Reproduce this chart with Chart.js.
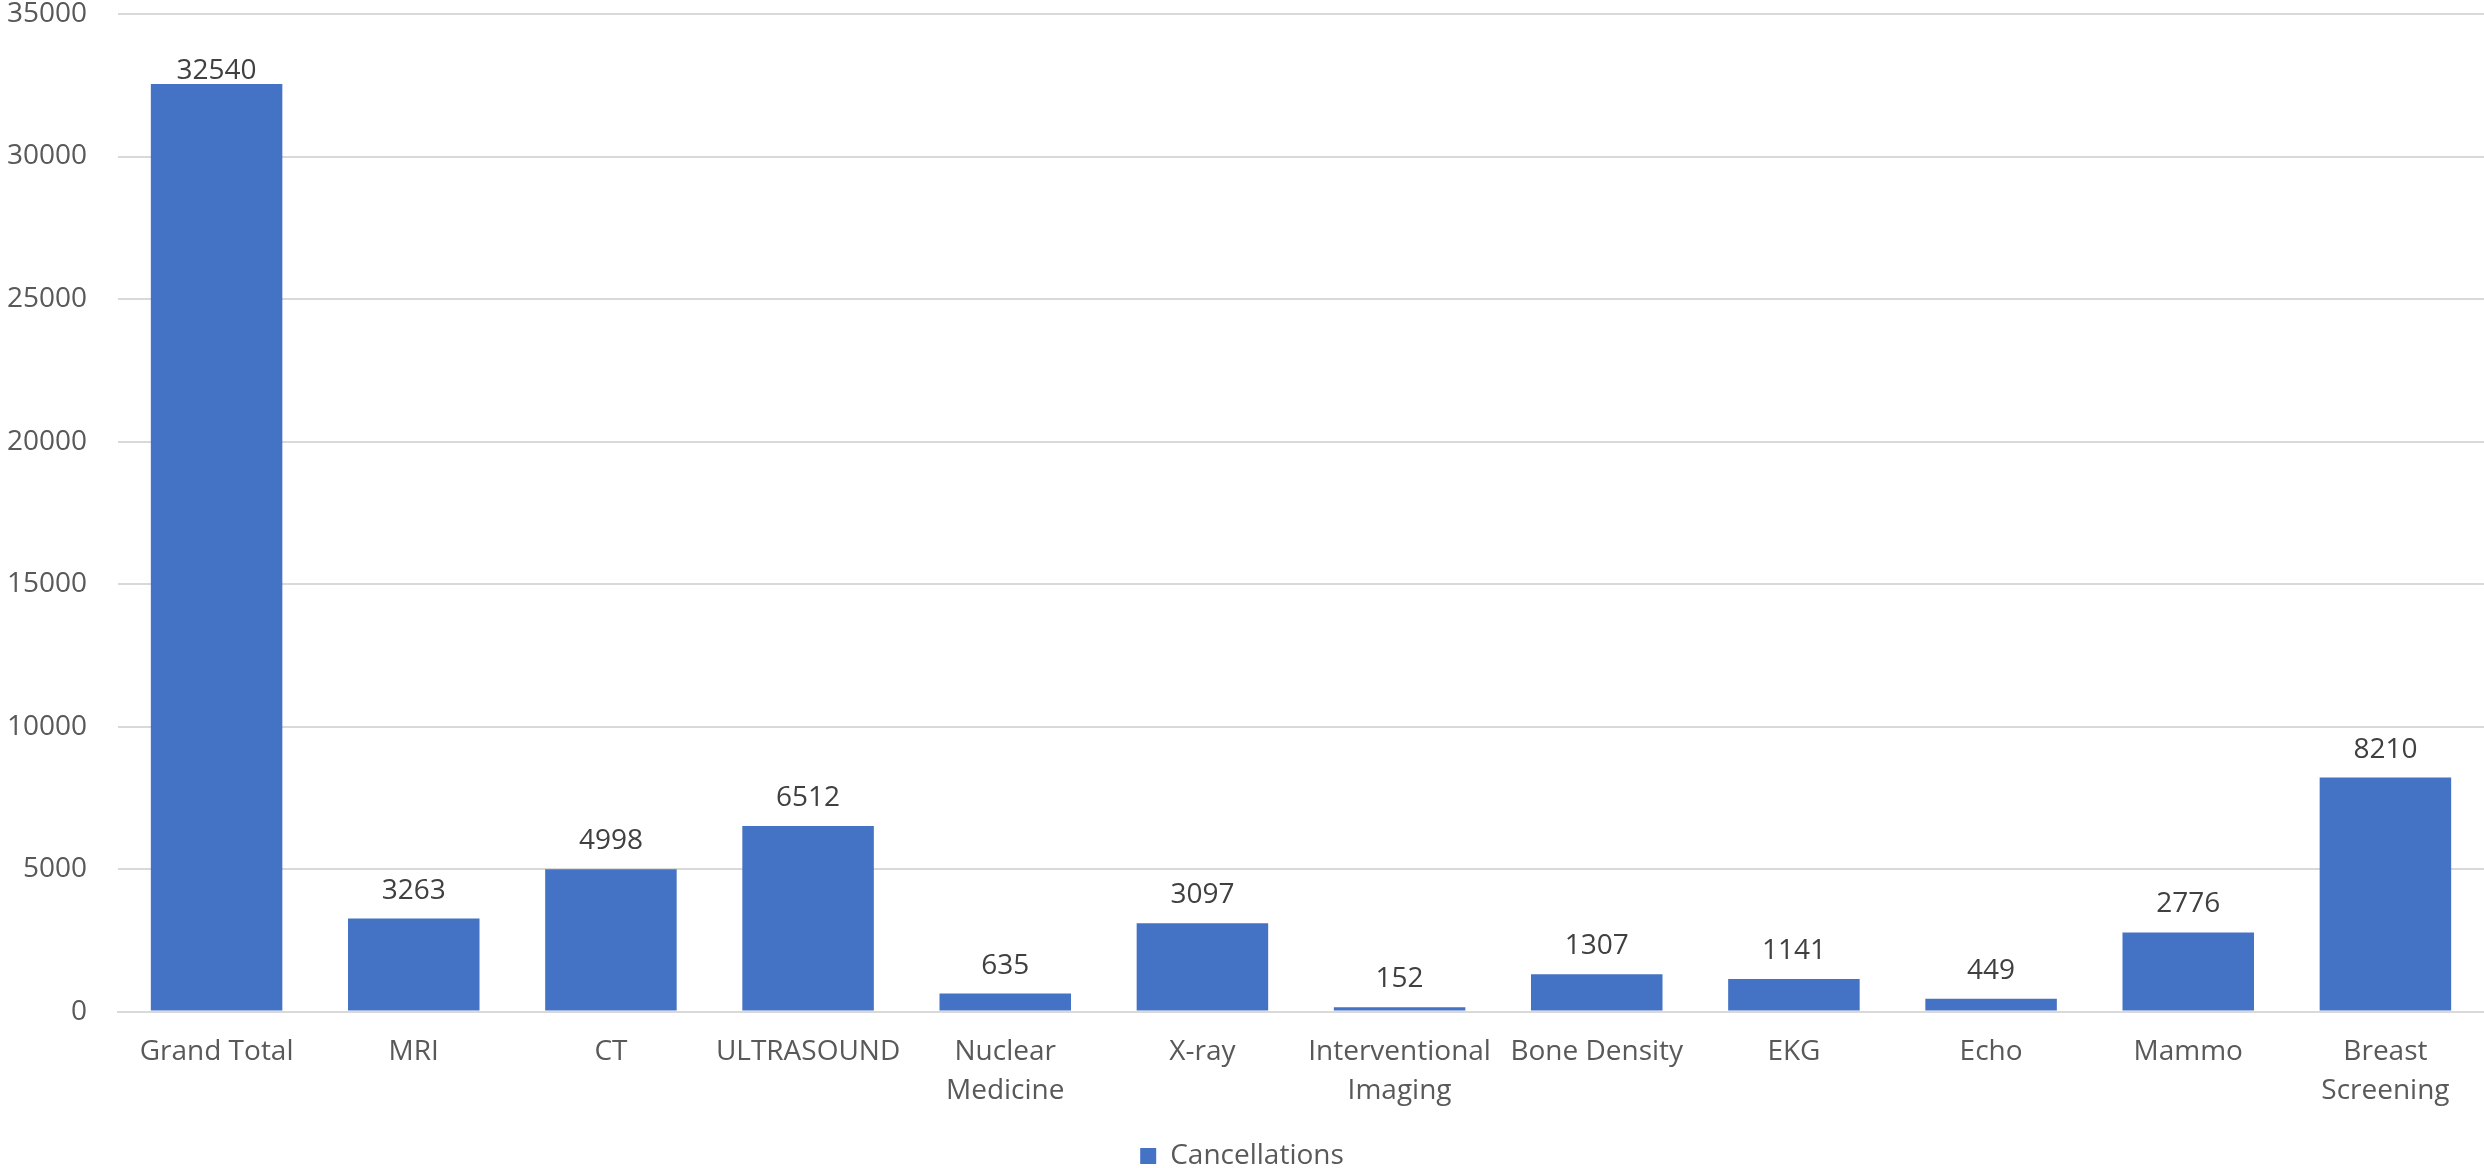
<!DOCTYPE html>
<html>
<head>
<meta charset="utf-8">
<script src="https://cdn.jsdelivr.net/npm/chart.js@4.4.1/dist/chart.umd.min.js"></script>
<style>
  html, body { margin: 0; padding: 0; background: #ffffff; }
  #wrap { width: 2484px; height: 1168px; }
</style>
</head>
<body>
<div id="wrap"><canvas id="cancelChart" width="2484" height="1168"></canvas></div>
<script>
// datos del gráfico
const categorias = [
  'Grand Total', 'MRI', 'CT', 'ULTRASOUND', ['Nuclear', 'Medicine'], 'X-ray',
  ['Interventional', 'Imaging'], 'Bone Density', 'EKG', 'Echo', 'Mammo', ['Breast', 'Screening']
];
const cancelaciones = [32540, 3263, 4998, 6512, 635, 3097, 152, 1307, 1141, 449, 2776, 8210];
const ticksY = [0, 5000, 10000, 15000, 20000, 25000, 30000, 35000];

const colores = {
  barra: '#4472C4',
  rejilla: '#d9d9d9',
  eje: '#595959',
  etiqueta: '#404040'
};
const fuente = "'Open Sans', sans-serif";

// etiquetas de valor encima de cada barra (se mantienen dentro del área)
const etiquetasValor = {
  id: 'etiquetasValor',
  afterDatasetsDraw(chart) {
    const ctx = chart.ctx;
    const meta = chart.getDatasetMeta(0);
    const limite = chart.chartArea.top + 65;
    ctx.save();
    ctx.font = '28px ' + fuente;
    ctx.fillStyle = colores.etiqueta;
    ctx.textAlign = 'center';
    ctx.textBaseline = 'alphabetic';
    meta.data.forEach((bar, i) => {
      const y = Math.max(bar.y - 20, limite);
      ctx.fillText(String(cancelaciones[i]), bar.x, y);
    });
    ctx.restore();
  }
};

const ctx = document.getElementById('cancelChart').getContext('2d');
new Chart(ctx, {
  type: 'bar',
  data: {
    labels: categorias,
    datasets: [{
      label: 'Cancellations',
      data: cancelaciones,
      backgroundColor: colores.barra,
      borderWidth: 0,
      barPercentage: 0.667,
      categoryPercentage: 1.0
    }]
  },
  options: {
    responsive: false,
    animation: false,
    layout: { padding: { top: 14, right: 0, left: 0, bottom: -12 } },
    plugins: {
      legend: {
        position: 'bottom',
        labels: {
          color: colores.eje,
          font: { family: fuente, size: 28 },
          boxWidth: 16,
          boxHeight: 16,
          padding: 10
        }
      },
      tooltip: { enabled: false }
    },
    scales: {
      x: {
        grid: { display: false, drawTicks: false },
        border: { display: true, color: colores.rejilla, width: 2 },
        ticks: {
          color: colores.eje,
          font: { family: fuente, size: 28, lineHeight: 1.4 },
          maxRotation: 0,
          autoSkip: false,
          padding: 21
        }
      },
      y: {
        min: 0,
        max: 35000,
        afterFit(scale) {
          scale.width = 118;
          scale.paddingTop = 0;
          scale.paddingBottom = 0;
        },
        afterBuildTicks(scale) { scale.ticks = ticksY.map(v => ({ value: v })); },
        grid: { color: colores.rejilla, lineWidth: 2, drawTicks: false },
        border: { display: false },
        ticks: {
          color: colores.eje,
          font: { family: fuente, size: 28 },
          padding: 31,
          callback: (valor) => String(valor)
        }
      }
    }
  },
  plugins: [etiquetasValor]
});
</script>
</body>
</html>
